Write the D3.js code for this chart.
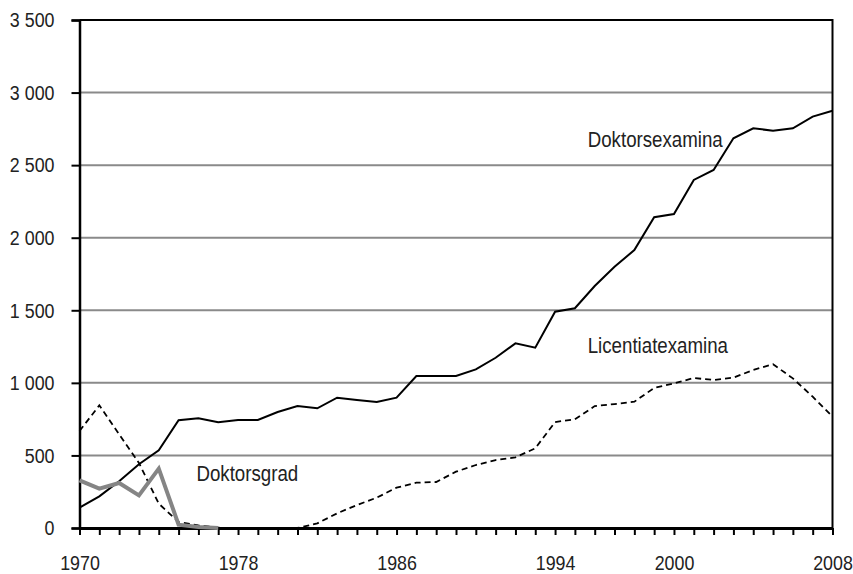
<!DOCTYPE html>
<html lang="sv">
  <head>
    <meta charset="UTF-8" />
    <script src="https://d3js.org/d3.v7.min.js"></script>
    <style>
      body { margin: 0; background: #fff; }
      svg text {
        font-family: "Liberation Sans Narrow", "Arial Narrow", "Liberation Sans", Arial, sans-serif;
        fill: #222;
      }
      .tick-label { font-size: 21px; }
      .series-label { font-size: 22px; }
    </style>
  </head>
  <body>
    <div id="chart"></div>
    <script>
      // data
      var years = [1970, 1971, 1972, 1973, 1974, 1975, 1976, 1977, 1978, 1979,
        1980, 1981, 1982, 1983, 1984, 1985, 1986, 1987, 1988, 1989,
        1990, 1991, 1992, 1993, 1994, 1995, 1996, 1997, 1998, 1999,
        2000, 2001, 2002, 2003, 2004, 2005, 2006, 2007, 2008];
      var doktorsexamina = [140, 218, 322, 439, 535, 742, 756, 728, 744, 744,
        799, 840, 825, 898, 882, 868, 898, 1047, 1047, 1047,
        1093, 1173, 1272, 1242, 1490, 1514, 1667, 1800, 1915, 2141,
        2163, 2398, 2467, 2685, 2754, 2737, 2754, 2834, 2875];
      var licentiatexamina = [668, 845, 645, 448, 168, 41, 18, 2, 0, 0,
        0, 0, 32, 101, 158, 209, 278, 312, 317, 388,
        434, 468, 487, 549, 730, 749, 840, 854, 870, 965,
        997, 1033, 1020, 1036, 1089, 1128, 1031, 905, 767];
      var doktorsgrad = [328, 271, 310, 225, 409, 23, 7, 0];
      var xTickLabels = [1970, 1978, 1986, 1994, 2000, 2008];
      var yTicks = [0, 500, 1000, 1500, 2000, 2500, 3000, 3500];

      var width = 853, height = 574;
      var margin = { top: 20, right: 20.5, bottom: 46, left: 79.5 };
      var narrow = 0.85; // squeeze text horizontally, no narrow font installed

      var svg = d3.select("#chart").append("svg")
        .attr("width", width)
        .attr("height", height);

      var x = d3.scalePoint()
        .domain(years)
        .range([margin.left, width - margin.right]);
      var y = d3.scaleLinear()
        .domain([0, 3500])
        .range([height - margin.bottom, margin.top]);

      var fmt = d3.formatLocale({ decimal: ",", thousands: " ", grouping: [3], currency: ["", " kr"] }).format(",d");

      // turn x/y of a text into a translate + horizontal squeeze
      function squeeze(sel) {
        sel.each(function () {
          var t = d3.select(this);
          var tx = +t.attr("x") || 0, ty = +t.attr("y") || 0;
          t.attr("x", null).attr("y", null)
            .attr("transform", "translate(" + tx + "," + ty + ") scale(" + narrow + ",1)");
        });
      }

      // gridlines
      svg.append("g")
        .selectAll("line")
        .data(yTicks.filter(function (d) { return d > 0 && d < 3500; }))
        .enter().append("line")
        .attr("x1", margin.left).attr("x2", width - margin.right)
        .attr("y1", function (d) { return y(d); })
        .attr("y2", function (d) { return y(d); })
        .attr("stroke", "#8a8a8a")
        .attr("stroke-width", 2);

      // frame: top and right
      svg.append("path")
        .attr("d", "M" + margin.left + "," + y(3500) + "H" + (width - margin.right) + "V" + y(0))
        .attr("fill", "none")
        .attr("stroke", "#000")
        .attr("stroke-width", 2);

      // y axis
      var yAxis = svg.append("g")
        .attr("transform", "translate(" + margin.left + ",0)")
        .call(d3.axisLeft(y).tickValues(yTicks).tickSize(8).tickPadding(17).tickFormat(fmt));
      yAxis.select(".domain").attr("stroke-width", 2.5);
      yAxis.selectAll(".tick line").attr("stroke-width", 2);
      yAxis.selectAll("text").attr("class", "tick-label").call(squeeze);
      yAxis.attr("font-size", null).attr("font-family", null);

      // x axis
      var xAxis = svg.append("g")
        .attr("transform", "translate(0," + y(0) + ")")
        .call(d3.axisBottom(x).tickSize(7).tickSizeOuter(0).tickFormat(function (d) {
          return xTickLabels.indexOf(d) >= 0 ? d : "";
        }).tickPadding(20));
      xAxis.select(".domain").attr("stroke-width", 3);
      xAxis.selectAll(".tick line").attr("stroke-width", 2);
      xAxis.selectAll("text").attr("class", "tick-label").call(squeeze);
      xAxis.attr("font-size", null).attr("font-family", null);

      var line = d3.line()
        .defined(function (d) { return d != null; })
        .x(function (d, i) { return x(years[i]); })
        .y(function (d) { return y(d); });

      svg.append("path")
        .datum(licentiatexamina)
        .attr("d", line)
        .attr("fill", "none")
        .attr("stroke", "#000")
        .attr("stroke-width", 1.8)
        .attr("stroke-dasharray", "6,4");

      svg.append("path")
        .datum(doktorsexamina)
        .attr("d", line)
        .attr("fill", "none")
        .attr("stroke", "#000")
        .attr("stroke-width", 2);

      svg.append("path")
        .datum(doktorsgrad)
        .attr("d", line)
        .attr("fill", "none")
        .attr("stroke", "#858585")
        .attr("stroke-width", 4);

      // series labels
      var labels = [
        { text: "Doktorsexamina", year: 1996, value: 2680, dx: -7 },
        { text: "Licentiatexamina", year: 1996, value: 1262, dx: -7 },
        { text: "Doktorsgrad", year: 1976, value: 379, dx: -2 }
      ];
      svg.selectAll("text.series-label")
        .data(labels)
        .enter().append("text")
        .attr("class", "series-label")
        .attr("x", function (d) { return x(d.year) + d.dx; })
        .attr("y", function (d) { return y(d.value); })
        .attr("dy", "0.35em")
        .text(function (d) { return d.text; })
        .call(squeeze);
    </script>
  </body>
</html>
